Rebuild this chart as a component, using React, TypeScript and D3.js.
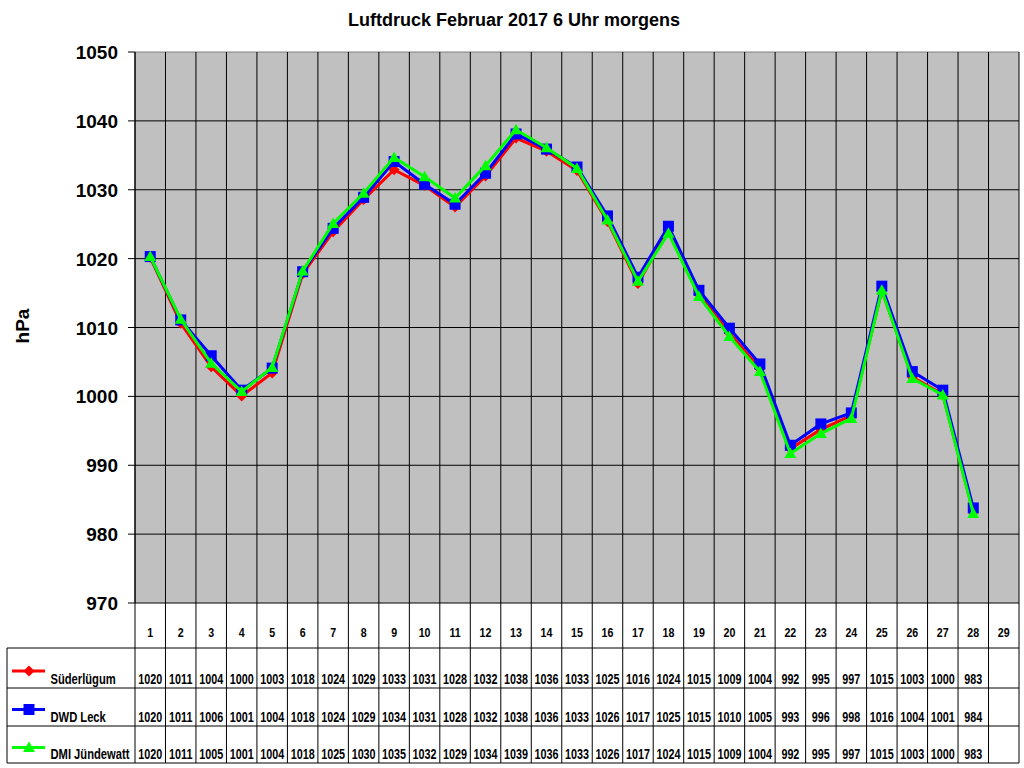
import * as d3 from "d3";

const days = ["1","2","3","4","5","6","7","8","9","10","11","12","13","14","15","16","17","18","19","20","21","22","23","24","25","26","27","28","29"];

// plotted values
const suederluegum = [1020.2, 1010.6, 1004.3, 1000.05, 1003.4, 1017.8, 1023.9, 1028.6, 1032.9, 1030.6, 1027.5, 1032.0, 1037.5, 1035.6, 1032.8, 1025.4, 1016.4, 1024.2, 1014.8, 1009.2, 1004.0, 992.4, 995.2, 997.2, 1015.4, 1002.8, 1000.3, 983.2];
const dwdLeck = [1020.3, 1011.1, 1005.9, 1000.9, 1004.1, 1018.1, 1024.4, 1028.9, 1034.1, 1030.8, 1027.9, 1032.4, 1038.1, 1035.9, 1033.3, 1026.2, 1017.3, 1024.7, 1015.4, 1009.9, 1004.7, 992.9, 996.0, 997.6, 1016.0, 1003.6, 1000.9, 983.8];
const dmiJuendewatt = [1020.3, 1011.2, 1004.8, 1000.7, 1004.2, 1018.2, 1025.1, 1029.5, 1034.7, 1031.9, 1028.8, 1033.5, 1038.7, 1036.1, 1033.1, 1025.6, 1016.7, 1023.7, 1014.5, 1008.7, 1003.6, 991.7, 994.6, 996.8, 1015.4, 1002.6, 1000.2, 983.0];

// data table labels
const suederluegumTable = ["1020","1011","1004","1000","1003","1018","1024","1029","1033","1031","1028","1032","1038","1036","1033","1025","1016","1024","1015","1009","1004","992","995","997","1015","1003","1000","983"];
const dwdLeckTable = ["1020","1011","1006","1001","1004","1018","1024","1029","1034","1031","1028","1032","1038","1036","1033","1026","1017","1025","1015","1010","1005","993","996","998","1016","1004","1001","984"];
const dmiJuendewattTable = ["1020","1011","1005","1001","1004","1018","1025","1030","1035","1032","1029","1034","1039","1036","1033","1026","1017","1024","1015","1009","1004","992","995","997","1015","1003","1000","983"];

const yTicks = [970, 980, 990, 1000, 1010, 1020, 1030, 1040, 1050];

const FONT = "Arial, 'Liberation Sans', sans-serif";

const series = [
  { name: "Süderlügum", values: suederluegum, table: suederluegumTable, color: "#ff0000", marker: "diamond" },
  { name: "DWD Leck", values: dwdLeck, table: dwdLeckTable, color: "#0000ff", marker: "square" },
  { name: "DMI Jündewatt", values: dmiJuendewatt, table: dmiJuendewattTable, color: "#00ff00", marker: "triangle" },
];

const Marker = ({ type, x, y, color }: { type: string; x: number; y: number; color: string }) => {
  if (type === "diamond") {
    return <path d={`M${x},${y - 5.5}L${x + 5.5},${y}L${x},${y + 5.5}L${x - 5.5},${y}Z`} fill={color} />;
  }
  if (type === "square") {
    return <rect x={x - 5.5} y={y - 5.5} width={11} height={11} fill={color} />;
  }
  return <path d={`M${x},${y - 6}L${x + 6},${y + 4.5}L${x - 6},${y + 4.5}Z`} fill={color} />;
};

export default function App() {
  const left = 135, right = 1019, top = 52, bottom = 603;
  const tableLeft = 7;
  const rowLines = [648, 688, 726, 763];

  const x = d3.scaleBand<string>().domain(days).range([left, right]);
  const cx = (i: number) => (x(days[i]) ?? 0) + x.bandwidth() / 2;
  const y = d3.scaleLinear().domain([970, 1050]).range([bottom, top]);

  const line = d3
    .line<number>()
    .x((_, i) => cx(i))
    .y((d) => y(d));

  const colEdges = days.map((d) => x(d) ?? 0).concat([right]);

  return (
    <svg
      width={1024}
      height={768}
      style={{ position: "absolute", left: 0, top: 0, background: "#fff" }}
      fontFamily={FONT}
    >
      <text x={514} y={26} textAnchor="middle" fontSize={18} fontWeight="bold">
        Luftdruck Februar 2017 6 Uhr morgens
      </text>

      {/* plot area */}
      <rect x={left} y={top} width={right - left} height={bottom - top} fill="#c0c0c0" />
      {yTicks.slice(1, -1).map((t) => (
        <line key={t} x1={left} x2={right} y1={y(t)} y2={y(t)} stroke="#000" strokeWidth={1} />
      ))}
      <line x1={left} x2={right} y1={top} y2={top} stroke="#808080" strokeWidth={1} />

      {/* vertical grid continuing through the table */}
      {colEdges.map((e, i) => (
        <line key={i} x1={e} x2={e} y1={top} y2={rowLines[3]} stroke="#000" strokeWidth={1} />
      ))}

      {/* y axis */}
      <line x1={left} x2={left} y1={top} y2={bottom} stroke="#000" strokeWidth={1} />
      {yTicks.map((t) => (
        <g key={t}>
          <line x1={left - 7} x2={left} y1={y(t)} y2={y(t)} stroke="#000" strokeWidth={1} />
          <text x={118} y={y(t) + 7} textAnchor="end" fontSize={19} fontWeight="bold">
            {t}
          </text>
        </g>
      ))}
      <text
        transform={`translate(29,326) rotate(-90)`}
        textAnchor="middle"
        fontSize={19}
        fontWeight="bold"
      >
        hPa
      </text>

      {/* lines and markers */}
      {series.map((s) => (
        <g key={s.name}>
          <path d={line(s.values) ?? ""} fill="none" stroke={s.color} strokeWidth={3} />
          {s.values.map((v, i) => (
            <Marker key={i} type={s.marker} x={cx(i)} y={y(v)} color={s.color} />
          ))}
        </g>
      ))}

      {/* data table */}
      <line x1={left} x2={right} y1={bottom} y2={bottom} stroke="#000" strokeWidth={1} />
      {rowLines.map((r) => (
        <line key={r} x1={tableLeft} x2={right} y1={r} y2={r} stroke="#000" strokeWidth={1} />
      ))}
      <line x1={tableLeft} x2={tableLeft} y1={rowLines[0]} y2={rowLines[3]} stroke="#000" strokeWidth={1} />

      {days.map((d, i) => (
        <text
          key={d}
          transform={`translate(${cx(i)},636.5) scale(0.82,1)`}
          textAnchor="middle"
          fontSize={13}
          fontWeight="bold"
        >
          {d}
        </text>
      ))}

      {series.map((s, k) => {
        const base = rowLines[k + 1] - 4.5;
        const ly = rowLines[k] + (k === 0 ? 23 : 21.5);
        return (
          <g key={s.name}>
            <line x1={12} x2={45} y1={ly} y2={ly} stroke={s.color} strokeWidth={3} />
            <Marker type={s.marker} x={29} y={ly} color={s.color} />
            <text
              transform={`translate(50.5,${base}) scale(0.8,1)`}
              fontSize={14}
              fontWeight="bold"
            >
              {s.name}
            </text>
            {s.table.map((v, i) => (
              <text
                key={i}
                transform={`translate(${cx(i)},${base}) scale(0.77,1)`}
                textAnchor="middle"
                fontSize={14}
                fontWeight="bold"
              >
                {v}
              </text>
            ))}
          </g>
        );
      })}
    </svg>
  );
}
